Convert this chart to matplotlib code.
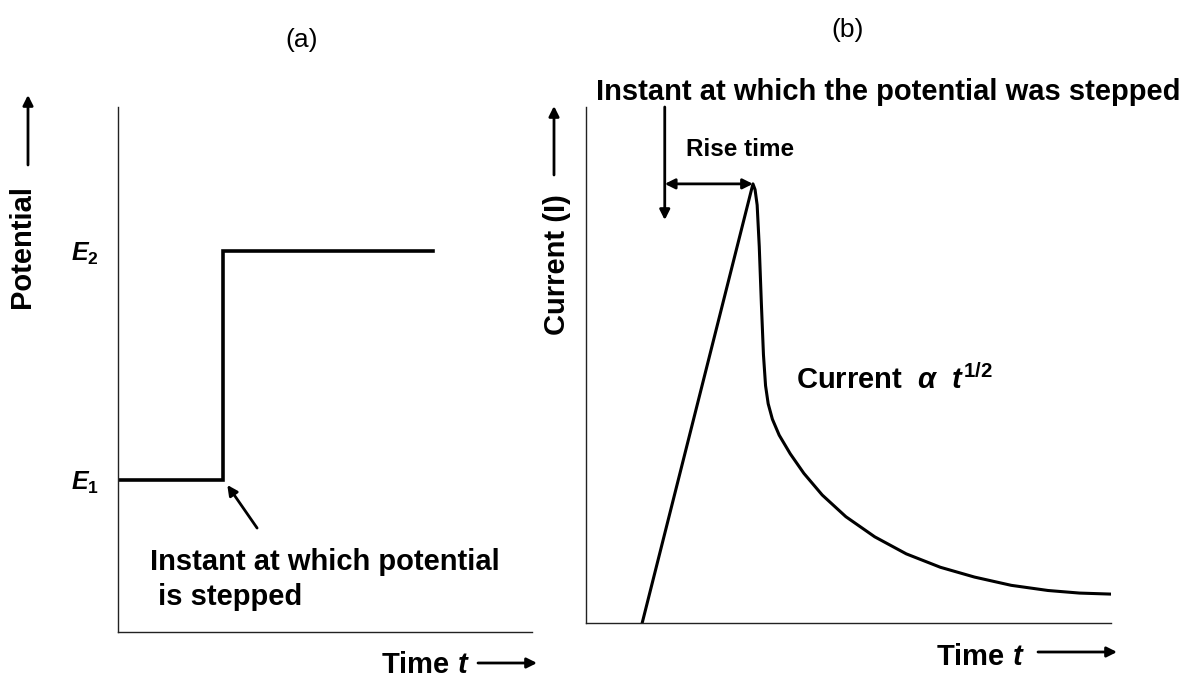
import matplotlib
matplotlib.use('Agg')
import matplotlib.pyplot as plt

plt.rcParams['font.family'] = ['Liberation Sans', 'DejaVu Sans']
plt.rcParams['mathtext.fontset'] = 'custom'
plt.rcParams['mathtext.it'] = 'Liberation Sans:italic:bold'
plt.rcParams['mathtext.rm'] = 'Liberation Sans:bold'
plt.rcParams['mathtext.bf'] = 'Liberation Sans:bold'

# (a) potential step
step_t = [0.0, 2.54, 2.54, 7.6]
step_E = [2.9, 2.9, 7.26, 7.26]
E_levels = [2.9, 7.26]
E_labels = ['$E_1$', '$E_2$']

# (b) current response
step_instant = 1.5
current_t = [1.07, 3.18, 3.22, 3.26, 3.30, 3.34, 3.38, 3.42, 3.47, 3.55, 3.68,
             3.89, 4.15, 4.5, 4.95, 5.5, 6.1, 6.75, 7.4, 8.1, 8.8, 9.4, 10.0]
current_i = [0.0, 8.51, 8.40, 8.10, 7.30, 6.20, 5.20, 4.60, 4.25, 3.95, 3.64,
             3.28, 2.90, 2.48, 2.06, 1.67, 1.34, 1.08, 0.89, 0.73, 0.63, 0.58, 0.56]

W, H = 1188, 679
fig = plt.figure(figsize=(W / 100, H / 100), dpi=100)


def box(x0, y0, x1, y1):
    return [x0 / W, 1 - y1 / H, (x1 - x0) / W, (y1 - y0) / H]


def fpx(x, y):
    return (x, H - y)


def style(ax):
    for s in ['top', 'right']:
        ax.spines[s].set_visible(False)
    for s in ['left', 'bottom']:
        ax.spines[s].set_linewidth(1.0)
        ax.spines[s].set_color('#222222')
    ax.set_xlim(0, 10)
    ax.set_ylim(0, 10)
    ax.set_xticks([])


bold = dict(fontsize=21, fontweight='bold')
arr = dict(arrowstyle='-|>', lw=2, color='k', mutation_scale=15, shrinkA=0, shrinkB=0)

# ---- panel (a)
ax1 = fig.add_axes(box(118, 107, 532, 632))
style(ax1)
ax1.plot(step_t, step_E, color='k', lw=2.6, solid_joinstyle='miter')
ax1.set_yticks(E_levels)
ax1.set_yticklabels(E_labels, fontsize=18)
ax1.tick_params(axis='y', length=0, pad=14)
ax1.annotate('', xy=(step_t[1] + 0.1, step_E[1] - 0.1), xytext=(3.36, 1.98),
             arrowprops=arr)
ax1.text(0.77, 1.33, 'Instant at which potential', va='center', **bold)
ax1.text(0.77, 0.67, ' is stepped', va='center', **bold)

fig.text(302 / W, 1 - 40 / H, '(a)', fontsize=19, ha='center', va='center')
fig.text(22 / W, 1 - 247 / H, 'Potential', rotation=90, ha='center', va='center', **bold)
fig.add_artist(matplotlib.patches.FancyArrowPatch(fpx(28, 165), fpx(28, 95),
               transform=None, **arr))
fig.text(425 / W, 1 - 665 / H, 'Time $t$', ha='center', va='center', **bold)
fig.add_artist(matplotlib.patches.FancyArrowPatch(fpx(478, 663), fpx(537, 663),
               transform=None, **arr))

# ---- panel (b)
ax2 = fig.add_axes(box(586, 107, 1111, 623))
style(ax2)
ax2.set_yticks([])
ax2.plot(current_t, current_i, color='k', lw=2.2)
peak = max(current_i)
peak_t = current_t[current_i.index(peak)]
ax2.annotate('', xy=(step_instant, 7.81), xytext=(step_instant, 10.0),
             arrowprops=arr)
ax2.annotate('', xy=(peak_t, peak), xytext=(step_instant, peak),
             arrowprops=dict(arrowstyle='<|-|>', lw=2, color='k', mutation_scale=15,
                             shrinkA=0, shrinkB=0))
ax2.text(step_instant + 0.41, 9.17, 'Rise time', ha='left', va='center',
         fontsize=17.5, fontweight='bold')
ax2.text(4.0, 4.71, r'Current  $\alpha$  $t^{1/2}$', va='center', **bold)

fig.text(848 / W, 1 - 30 / H, '(b)', fontsize=19, ha='center', va='center')
fig.text(888 / W, 1 - 92 / H, 'Instant at which the potential was stepped',
         ha='center', va='center', **bold)
fig.text(557 / W, 1 - 265 / H, 'Current (I)', rotation=90, ha='center', va='center', **bold)
fig.add_artist(matplotlib.patches.FancyArrowPatch(fpx(554, 175), fpx(554, 106),
               transform=None, **arr))
fig.text(980 / W, 1 - 657 / H, 'Time $t$', ha='center', va='center', **bold)
fig.add_artist(matplotlib.patches.FancyArrowPatch(fpx(1038, 652), fpx(1117, 652),
               transform=None, **arr))

fig.savefig('out.png', dpi=100)
